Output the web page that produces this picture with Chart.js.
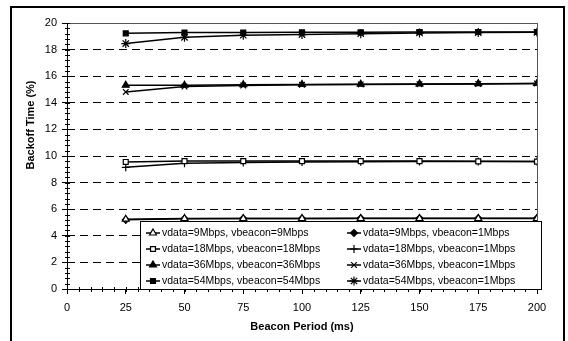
<!DOCTYPE html>
<html>
<head>
<meta charset="utf-8">
<script src="https://cdn.jsdelivr.net/npm/chart.js@4.4.1/dist/chart.umd.min.js"></script>
<style>
html,body{margin:0;padding:0;background:#fff;}
#wrap{position:relative;width:568px;height:341px;}
</style>
</head>
<body>
<div id="wrap"><canvas id="c" width="568" height="341"></canvas></div>
<script>
// ---- data ----
const beaconPeriods = [25, 50, 75, 100, 125, 150, 175, 200];
const seriesLabels = [
  'vdata=9Mbps, vbeacon=9Mbps',
  'vdata=9Mbps, vbeacon=1Mbps',
  'vdata=18Mbps, vbeacon=18Mbps',
  'vdata=18Mbps, vbeacon=1Mbps',
  'vdata=36Mbps, vbeacon=36Mbps',
  'vdata=36Mbps, vbeacon=1Mbps',
  'vdata=54Mbps, vbeacon=54Mbps',
  'vdata=54Mbps, vbeacon=1Mbps'
];
const v9_9   = [5.25, 5.30, 5.30, 5.30, 5.30, 5.30, 5.30, 5.30];
const v9_1   = [5.20, 5.28, 5.30, 5.30, 5.32, 5.32, 5.32, 5.32];
const v18_18 = [9.55, 9.62, 9.62, 9.62, 9.62, 9.62, 9.60, 9.58];
const v18_1  = [9.15, 9.45, 9.52, 9.55, 9.57, 9.58, 9.58, 9.58];
const v36_36 = [15.32, 15.32, 15.36, 15.38, 15.40, 15.42, 15.44, 15.45];
const v36_1  = [14.82, 15.22, 15.30, 15.35, 15.38, 15.40, 15.42, 15.45];
const v54_54 = [19.22, 19.28, 19.28, 19.30, 19.30, 19.32, 19.32, 19.32];
const v54_1  = [18.45, 18.92, 19.08, 19.13, 19.20, 19.25, 19.28, 19.30];
const yTicks = [0, 2, 4, 6, 8, 10, 12, 14, 16, 18, 20];
const xTicks = [0, 25, 50, 75, 100, 125, 150, 175, 200];
const xTitle = 'Beacon Period (ms)';
const yTitle = 'Backoff Time (%)';

const allValues = [v9_9, v9_1, v18_18, v18_1, v36_36, v36_1, v54_54, v54_1];
const styles = [
  {ps:'triangle', fill:'#fff', r:4},
  {ps:'rectRot',  fill:'#000', r:3.5},
  {ps:'rect',     fill:'#fff', r:3.5},
  {ps:'cross',    fill:'#000', r:4},
  {ps:'triangle', fill:'#000', r:4},
  {ps:'crossRot', fill:'#000', r:4},
  {ps:'rect',     fill:'#000', r:3.5},
  {ps:'star',     fill:'#000', r:4.5}
];
const FONT = "'Liberation Sans', Arial, sans-serif";

const datasets = allValues.map((vals, i) => ({
  label: seriesLabels[i],
  data: vals.map((v, k) => ({x: beaconPeriods[k], y: v})),
  borderColor: '#000',
  borderWidth: 1.5,
  pointStyle: styles[i].ps,
  pointRadius: styles[i].r,
  pointBackgroundColor: styles[i].fill,
  pointBorderColor: '#000',
  pointBorderWidth: 1.2,
  tension: 0,
  fill: false
}));

const decor = {
  id: 'decor',
  beforeDraw(chart) {
    const ctx = chart.ctx;
    ctx.save();
    ctx.fillStyle = '#fff';
    ctx.fillRect(0, 0, chart.width, chart.height);
    // outer frame
    ctx.strokeStyle = '#000';
    ctx.lineWidth = 2;
    ctx.strokeRect(11, 7, 553, 345);
    ctx.restore();
  },
  afterDraw(chart) {
    const ctx = chart.ctx;
    const a = chart.chartArea;
    const xs = chart.scales.x, ys = chart.scales.y;
    ctx.save();
    // plot area top/right border
    ctx.strokeStyle = '#555';
    ctx.lineWidth = 1;
    ctx.beginPath();
    ctx.moveTo(a.left, Math.round(a.top) + 0.5);
    ctx.lineTo(a.right, Math.round(a.top) + 0.5);
    ctx.moveTo(Math.round(a.right) + 0.5, a.top);
    ctx.lineTo(Math.round(a.right) + 0.5, a.bottom);
    ctx.stroke();
    // y axis line
    ctx.strokeStyle = '#000';
    ctx.beginPath();
    ctx.moveTo(Math.round(a.left) + 0.5, a.top);
    ctx.lineTo(Math.round(a.left) + 0.5, a.bottom);
    ctx.stroke();
    // minor ticks
    ctx.beginPath();
    for (let v = 0; v <= 20.001; v += 0.4) {
      const py = Math.round(ys.getPixelForValue(v)) + 0.5;
      ctx.moveTo(a.left - 2, py); ctx.lineTo(a.left + 3, py);
    }
    for (let v = 0; v <= 200.001; v += 5) {
      const px = Math.round(xs.getPixelForValue(v)) + 0.5;
      ctx.moveTo(px, a.bottom - 2); ctx.lineTo(px, a.bottom + 3);
    }
    ctx.stroke();
    // y title
    ctx.fillStyle = '#000';
    ctx.font = 'bold 11px ' + FONT;
    ctx.textAlign = 'center';
    ctx.textBaseline = 'middle';
    ctx.translate(31, 125);
    ctx.rotate(-Math.PI / 2);
    ctx.fillText(yTitle, 0, 0);
    ctx.restore();

    // legend
    ctx.save();
    const lx = 140, ly = 221, lw = 401, lh = 68;
    ctx.fillStyle = '#fff';
    ctx.fillRect(lx, ly, lw, lh);
    ctx.strokeStyle = '#000';
    ctx.lineWidth = 1;
    ctx.strokeRect(lx + 0.5, ly + 0.5, lw, lh);
    ctx.font = '10.5px ' + FONT;
    ctx.textAlign = 'left';
    ctx.textBaseline = 'middle';
    chart.data.datasets.forEach((ds, i) => {
      const col = i % 2, row = Math.floor(i / 2);
      const x0 = col === 0 ? 146 : 347;
      const y0 = 233 + row * 16;
      ctx.strokeStyle = '#000';
      ctx.lineWidth = 1.5;
      ctx.beginPath();
      ctx.moveTo(x0, y0); ctx.lineTo(x0 + 14, y0);
      ctx.stroke();
      ctx.fillStyle = ds.pointBackgroundColor;
      ctx.strokeStyle = '#000';
      ctx.lineWidth = 1.2;
      Chart.helpers.drawPoint(ctx, {pointStyle: ds.pointStyle, radius: ds.pointRadius, rotation: 0, borderWidth: 1.2}, x0 + 7, y0);
      ctx.fillStyle = '#000';
      ctx.fillText(ds.label, x0 + 16, y0 + 0.5);
    });
    ctx.restore();
  }
};

new Chart(document.getElementById('c'), {
  type: 'line',
  data: { datasets },
  options: {
    responsive: false,
    animation: false,
    devicePixelRatio: 1,
    layout: { padding: { left: 12, right: 31, top: 23, bottom: 0 } },
    plugins: { legend: { display: false }, tooltip: { enabled: false } },
    scales: {
      x: {
        type: 'linear', min: 0, max: 200,
        afterBuildTicks: s => { s.ticks = xTicks.map(v => ({value: v})); },
        ticks: { color: '#000', font: { family: FONT, size: 11 }, padding: 7, maxRotation: 0 },
        grid: { drawOnChartArea: false, drawTicks: true, tickLength: 5, color: '#000', tickColor: '#000' },
        border: { display: true, color: '#000', width: 1 },
        title: { display: true, text: xTitle, color: '#000', font: { family: FONT, size: 11, weight: 'bold' }, padding: { top: 4, bottom: 7 } },
        afterFit: s => { s.height = 52; }
      },
      y: {
        min: 0, max: 20,
        afterBuildTicks: s => { s.ticks = yTicks.map(v => ({value: v})); },
        ticks: { color: '#000', font: { family: FONT, size: 11 }, padding: 5 },
        grid: {
          drawTicks: true, tickLength: 5,
          color: c => (c.tick && (c.tick.value === 0 || c.tick.value === 20)) ? 'rgba(0,0,0,0)' : '#000',
          tickColor: '#000', lineWidth: 1
        },
        border: { display: false, dash: [8, 5] },
        afterFit: s => { s.width = 55; }
      }
    }
  },
  plugins: [decor]
});
</script>
</body>
</html>
